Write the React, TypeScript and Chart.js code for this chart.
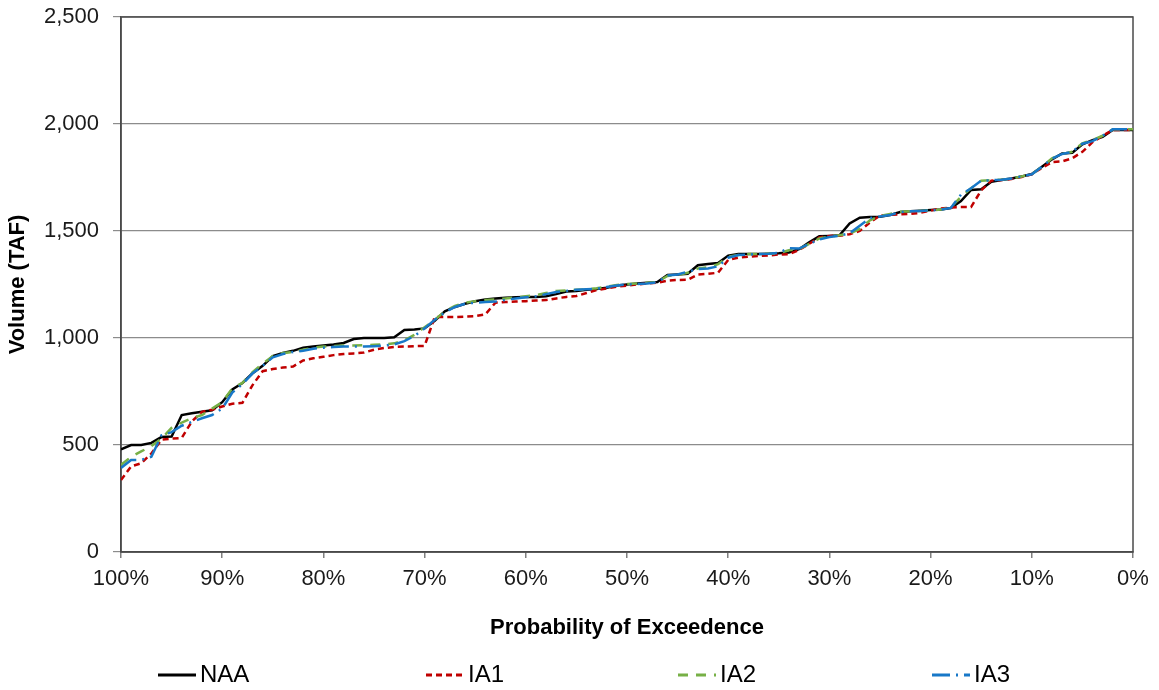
import React, { useEffect, useRef } from "react";
import { Chart, registerables } from "chart.js";

Chart.register(...registerables);

const probabilities: number[] = Array.from({ length: 101 }, (_, i) => 100 - i);

const naaValues: number[] = [
  480, 500, 500, 510, 537, 540, 640, 648, 655, 662,
  700, 760, 790, 835, 870, 915, 930, 940, 955, 960,
  965, 970, 977, 995, 1000, 1000, 1000, 1003, 1037, 1040,
  1045, 1080, 1125, 1145, 1160, 1172, 1180, 1185, 1188, 1190,
  1192, 1192, 1195, 1205, 1217, 1220, 1225, 1229, 1235, 1245,
  1250, 1255, 1258, 1262, 1294, 1297, 1300, 1340, 1346, 1350,
  1385, 1392, 1393, 1393, 1394, 1396, 1400, 1415, 1447, 1475,
  1477, 1480, 1535, 1562, 1565, 1566, 1575, 1589, 1592, 1595,
  1598, 1600, 1607, 1640, 1692, 1695, 1730, 1738, 1745, 1755,
  1766, 1800, 1835, 1862, 1866, 1905, 1925, 1940, 1972, 1972,
  1972,
];

const ia1Values: number[] = [
  336, 400, 415, 460, 525, 530, 533, 610, 655, 665,
  680, 693, 697, 780, 845, 855, 862, 867, 895, 905,
  912, 920, 925, 928, 932, 945, 953, 958, 960, 962,
  963, 1098, 1098, 1098, 1100, 1102, 1110, 1165, 1168, 1170,
  1172, 1175, 1177, 1185, 1192, 1196, 1210, 1224, 1232, 1240,
  1245, 1250, 1255, 1258, 1268, 1271, 1272, 1297, 1300, 1305,
  1365, 1375, 1380, 1383, 1386, 1390, 1392, 1411, 1440, 1470,
  1477, 1478, 1485, 1500, 1540, 1572, 1575, 1578, 1580, 1585,
  1595, 1605, 1610, 1612, 1612, 1690, 1735, 1738, 1743, 1752,
  1765, 1795, 1822, 1825, 1840, 1870, 1915, 1945, 1972, 1972,
  1972,
];

const ia2Values: number[] = [
  407, 445, 470, 495, 530, 580, 605, 625, 640, 670,
  700, 765, 790, 840, 880, 915, 930, 935, 945, 955,
  960, 962, 965, 965, 966, 968, 970, 975, 990, 1015,
  1050, 1085, 1125, 1150, 1165, 1172, 1178, 1180, 1185, 1190,
  1195, 1200, 1210, 1220, 1222, 1225, 1228, 1232, 1240, 1248,
  1252, 1255, 1258, 1262, 1290, 1295, 1305, 1325, 1330, 1345,
  1380, 1388, 1392, 1393, 1394, 1396, 1410, 1415, 1440, 1465,
  1475, 1480, 1488, 1510, 1550, 1570, 1580, 1590, 1592, 1594,
  1596, 1600, 1610, 1660, 1700, 1735, 1738, 1740, 1745, 1755,
  1766, 1800, 1840, 1860, 1870, 1910, 1925, 1945, 1975, 1975,
  1975,
];

const ia3Values: number[] = [
  393, 430, 430, 445, 545, 560, 590, 608, 625, 640,
  670, 745, 785, 835, 870, 910, 925, 935, 940, 950,
  955, 958, 960, 960, 960, 962, 965, 970, 985, 1010,
  1045, 1085, 1120, 1145, 1160, 1165, 1168, 1170, 1178, 1185,
  1190, 1195, 1205, 1215, 1220, 1225, 1228, 1230, 1238, 1245,
  1250, 1252, 1255, 1260, 1292, 1297, 1310, 1322, 1325, 1335,
  1375, 1388, 1390, 1392, 1394, 1398, 1420, 1418, 1440, 1460,
  1472, 1478, 1490, 1525, 1560, 1568, 1575, 1588, 1592, 1594,
  1596, 1600, 1608, 1670, 1700, 1735, 1737, 1740, 1745, 1755,
  1765, 1800, 1838, 1860, 1870, 1908, 1920, 1945, 1975, 1975,
  1975,
];

const seriesNames: string[] = ["NAA", "IA1", "IA2", "IA3"];
const xTickValues: number[] = [100, 90, 80, 70, 60, 50, 40, 30, 20, 10, 0];
const yTickValues: number[] = [0, 500, 1000, 1500, 2000, 2500];

const FONT = "'Liberation Sans', Arial, sans-serif";

const styles = [
  { color: "#000000", dash: [] as number[], width: 2.5 },
  { color: "#C00000", dash: [6, 4], width: 2.5 },
  { color: "#77B046", dash: [10, 8], width: 2.5 },
  { color: "#1878C8", dash: [18, 6, 2, 6], width: 2.5 },
];

const legendStarts = [158, 426, 678, 932];

const frameAndLegend = {
  id: "frameAndLegend",
  beforeDatasetsDraw(chart: any) {
    const { ctx, chartArea } = chart;
    ctx.save();
    ctx.strokeStyle = "#4a4a4a";
    ctx.lineWidth = 1.5;
    ctx.strokeRect(chartArea.left, chartArea.top, chartArea.right - chartArea.left, chartArea.bottom - chartArea.top);
    ctx.restore();
  },
  afterDraw(chart: any) {
    const { ctx } = chart;
    const y = 675;
    ctx.save();
    chart.data.datasets.forEach((ds: any, i: number) => {
      const x0 = legendStarts[i];
      ctx.beginPath();
      ctx.setLineDash(styles[i].dash);
      ctx.strokeStyle = ds.borderColor;
      ctx.lineWidth = 3;
      ctx.moveTo(x0, y);
      ctx.lineTo(x0 + 38, y);
      ctx.stroke();
      ctx.setLineDash([]);
      ctx.fillStyle = "#000";
      ctx.font = `24px ${FONT}`;
      ctx.textBaseline = "middle";
      ctx.textAlign = "left";
      ctx.fillText(ds.label, x0 + 42, y);
    });
    ctx.restore();
  },
};

export default function App() {
  const canvasRef = useRef<HTMLCanvasElement | null>(null);

  useEffect(() => {
    document.body.style.margin = "0";
    const canvas = canvasRef.current;
    if (!canvas) return;
    const seriesValues = [naaValues, ia1Values, ia2Values, ia3Values];
    const chart = new Chart(canvas, {
      type: "line",
      data: {
        datasets: seriesNames.map((name, i) => ({
          label: name,
          data: probabilities.map((p, j) => ({ x: p, y: seriesValues[i][j] })),
          borderColor: styles[i].color,
          backgroundColor: styles[i].color,
          borderDash: styles[i].dash,
          borderWidth: styles[i].width,
          pointRadius: 0,
          tension: 0,
          fill: false,
          order: 4 - i,
        })),
      },
      options: {
        responsive: false,
        animation: false,
        layout: { padding: { left: 0, right: 26, top: 17, bottom: 0 } },
        plugins: { legend: { display: false }, tooltip: { enabled: false } },
        scales: {
          x: {
            type: "linear",
            reverse: true,
            min: 0,
            max: 100,
            afterBuildTicks: (scale: any) => {
              scale.ticks = xTickValues.map((v) => ({ value: v }));
            },
            afterFit: (scale: any) => {
              scale.height = 138;
              scale.paddingLeft = 0;
              scale.paddingRight = 0;
            },
            ticks: {
              color: "#1a1a1a",
              font: { family: FONT, size: 22 },
              padding: 8,
              maxRotation: 0,
              autoSkip: false,
              callback: (v: any) => `${v}%`,
            },
            grid: { drawOnChartArea: false, drawTicks: true, tickLength: 6, color: "#7f7f7f", lineWidth: 1.5 },
            border: { display: true, color: "#4a4a4a", width: 1.5 },
            title: {
              display: true,
              text: "Probability of Exceedence",
              color: "#000",
              font: { family: FONT, size: 22, weight: "bold" },
              padding: { top: 0, bottom: 49 },
            },
          },
          y: {
            type: "linear",
            min: 0,
            max: 2500,
            afterBuildTicks: (scale: any) => {
              scale.ticks = yTickValues.map((v) => ({ value: v }));
            },
            afterFit: (scale: any) => {
              scale.width = 121;
              scale.paddingTop = 0;
              scale.paddingBottom = 0;
            },
            ticks: {
              color: "#1a1a1a",
              font: { family: FONT, size: 22 },
              padding: 14,
              callback: (v: any) => Number(v).toLocaleString("en-US"),
            },
            grid: { drawOnChartArea: true, drawTicks: true, tickLength: 8, color: "#8c8c8c", lineWidth: 1.2 },
            border: { display: true, color: "#4a4a4a", width: 1.5 },
            title: {
              display: true,
              text: "Volume (TAF)",
              color: "#000",
              font: { family: FONT, size: 22, weight: "bold" },
              padding: { top: 5, bottom: 0 },
            },
          },
        },
      },
      plugins: [frameAndLegend],
    });
    return () => chart.destroy();
  }, []);

  return (
    <div style={{ width: 1159, height: 690, background: "#fff" }}>
      <canvas ref={canvasRef} width={1159} height={690} style={{ display: "block" }} />
    </div>
  );
}
